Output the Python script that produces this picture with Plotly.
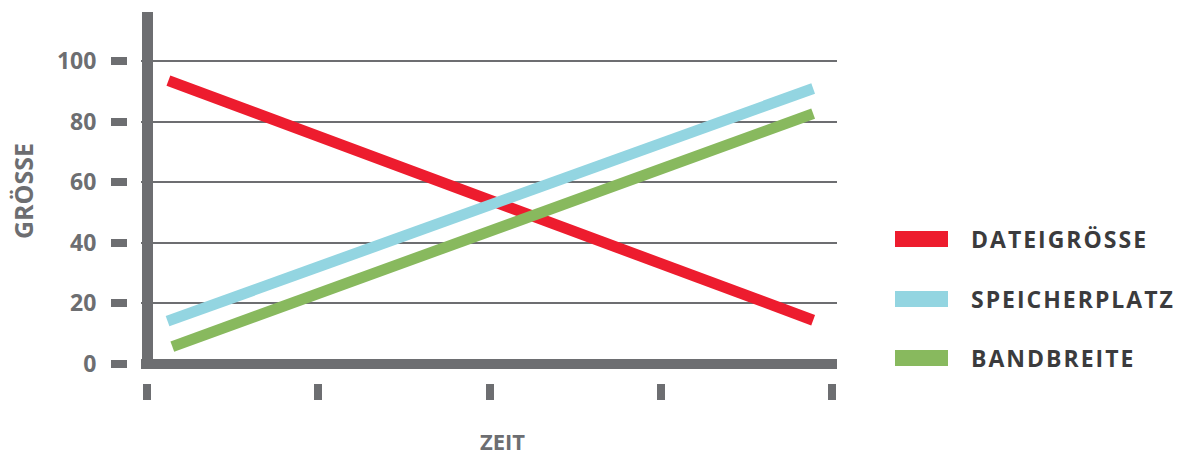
import plotly.graph_objects as go

W, H = 1185, 455

# ---------------- data ----------------
series_names = ["DATEIGRÖSSE", "SPEICHERPLATZ", "BANDBREITE"]
series_colors = ["#ed1c2e", "#93d5e1", "#88b95e"]
dateigroesse_x = [0.125, 3.89]
dateigroesse_y = [93.5, 14.3]
speicherplatz_x = [0.12, 3.89]
speicherplatz_y = [14.0, 90.9]
bandbreite_x = [0.148, 3.89]
bandbreite_y = [5.6, 82.6]
x_ticks = [0, 1, 2, 3, 4]
y_ticks = [0, 20, 40, 60, 80, 100]
y_tick_labels = ["0", "20", "40", "60", "80", "100"]
y_grid = [20, 40, 60, 80, 100]
x_title = "ZEIT"
y_title = "GRÖSSE"

GRAY = "#6d6e71"
DARK = "#3b3b3d"
FONT = "Open Sans"

# pixel geometry helpers (paper coords, margins are 0)
def px_x(p):
    return p / W

def px_y(p):
    return 1 - p / H

Y0_PX, Y_SCALE = 363.5, 3.025       # pixel of value 0, pixels per unit
X0_PX, X_SCALE = 147.0, 171.25      # pixel of x=0, pixels per unit

def yval(p):
    return (Y0_PX - p) / Y_SCALE

def xval(p):
    return (p - X0_PX) / X_SCALE

fig = go.Figure()

all_x = [dateigroesse_x, speicherplatz_x, bandbreite_x]
all_y = [dateigroesse_y, speicherplatz_y, bandbreite_y]
for name, col, xs, ys in zip(series_names, series_colors, all_x, all_y):
    fig.add_trace(go.Scatter(x=xs, y=ys, mode="lines", name=name,
                             line=dict(color=col, width=11),
                             showlegend=False, hoverinfo="skip"))

# invisible helper traces so that the overlay axes (lines / detached ticks) get rendered
for xa, ya in [("x2", "y"), ("x3", "y"), ("x", "y2"), ("x", "y3")]:
    fig.add_trace(go.Scatter(x=[x_ticks[1]], y=[y_ticks[1]], xaxis=xa, yaxis=ya,
                             mode="markers", marker=dict(opacity=0, size=1),
                             showlegend=False, hoverinfo="skip"))

x_dom = [px_x(141), px_x(837)]
y_dom = [px_y(369), px_y(12)]
x_rng = [xval(141), xval(837)]
y_rng = [yval(369), yval(12)]

common = dict(fixedrange=True, showgrid=False, zeroline=False)

fig.update_layout(
    width=W, height=H, autosize=False,
    margin=dict(l=0, r=0, t=0, b=0, pad=0, autoexpand=False),
    paper_bgcolor="white", plot_bgcolor="white",
    showlegend=False,
    font=dict(family=FONT, color=GRAY),
    # main axes: gridlines only
    xaxis=dict(domain=x_dom, range=x_rng, showline=False, ticks="",
               showticklabels=False, **common),
    yaxis=dict(domain=y_dom, range=y_rng, tickvals=y_grid, ticks="",
               showticklabels=False, showline=False, fixedrange=True,
               showgrid=True, gridcolor=GRAY, gridwidth=2, zeroline=False),
    # thick horizontal axis line at value 0
    xaxis2=dict(overlaying="x", anchor="free", position=px_y(364), range=x_rng,
                showline=True, linewidth=10, linecolor=GRAY, ticks="",
                showticklabels=False, **common),
    # detached x tick marks
    xaxis3=dict(overlaying="x", anchor="free", position=px_y(383), side="bottom",
                range=x_rng, tickvals=x_ticks, ticks="outside", ticklen=16,
                tickwidth=8, tickcolor=GRAY, showticklabels=False,
                showline=False, **common),
    # thick vertical axis line
    yaxis2=dict(overlaying="y", anchor="free", position=px_x(146.5), range=y_rng,
                showline=True, linewidth=11, linecolor=GRAY, ticks="",
                showticklabels=False, **common),
    # detached y tick marks and labels
    yaxis3=dict(overlaying="y", anchor="free", position=px_x(127), side="left",
                range=y_rng, tickvals=y_ticks, ticktext=y_tick_labels,
                ticks="outside", ticklen=16, tickwidth=8, tickcolor=GRAY,
                ticklabelstandoff=10,
                tickfont=dict(family=FONT, size=23, color=GRAY, weight="bold"),
                showline=False, **common),
)

# axis titles
fig.add_annotation(text=x_title, x=px_x(502), y=px_y(441), xref="paper", yref="paper",
                   showarrow=False, xanchor="center", yanchor="middle", borderpad=0,
                   font=dict(family=FONT, size=22, color=GRAY, weight="bold"))
fig.add_annotation(text=y_title, x=px_x(23), y=px_y(191), xref="paper", yref="paper",
                   showarrow=False, xanchor="center", yanchor="middle", textangle=-90,
                   font=dict(family=FONT, size=25, color=GRAY, weight="bold"))

# custom legend
legend_rows_px = [239, 299, 358]
for name, col, cy in zip(series_names, series_colors, legend_rows_px):
    fig.add_shape(type="rect", xref="paper", yref="paper",
                  x0=px_x(895), x1=px_x(948), y0=px_y(cy + 8), y1=px_y(cy - 8),
                  fillcolor=col, line=dict(width=0))
    fig.add_annotation(text=f'<span style="letter-spacing:2px">{name}</span>',
                       x=px_x(969), y=px_y(cy), xref="paper", yref="paper",
                       showarrow=False, xanchor="left", yanchor="middle",
                       font=dict(family=FONT, size=23, color=DARK, weight="bold"))

fig.write_html("out.html")
